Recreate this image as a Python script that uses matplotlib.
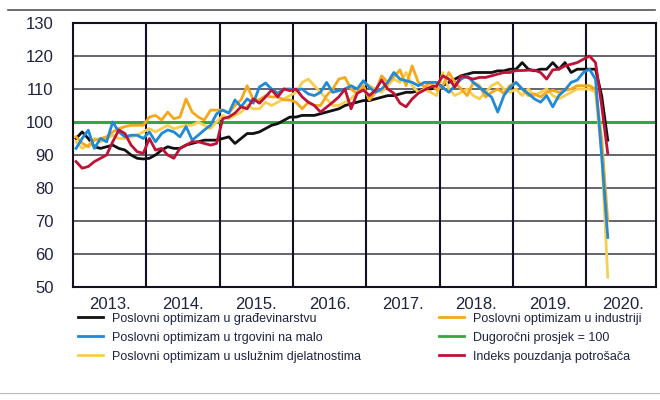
import numpy as np
import matplotlib.pyplot as plt
from matplotlib.lines import Line2D

plt.rcParams['font.family'] = ['Liberation Sans', 'DejaVu Sans']

# monthly data, Jan 2013 - Apr 2020
years = [2013, 2014, 2015, 2016, 2017, 2018, 2019, 2020]
year_labels = ['2013.', '2014.', '2015.', '2016.', '2017.', '2018.', '2019.', '2020.']

gradevinarstvo = [95, 97, 95, 92.5, 92, 92.5, 93, 92, 91.5, 90, 89, 88.8,
                  89, 90, 91.5, 92.5, 92, 92, 93, 93.5, 94, 94.5, 94.5, 94.5,
                  95, 95.5, 93.5, 95, 96.5, 96.5, 97, 98, 99, 99.5, 100.5, 101.5,
                  101.5, 102, 102, 102, 102.5, 103, 103.5, 104, 105, 105.5, 106, 106.5,
                  106.5, 107, 107.5, 108, 108, 108.5, 109, 109, 109.5, 110, 110, 110.5,
                  111, 112, 113, 114, 114.5, 115, 115, 115, 115, 115.5, 115.5, 116,
                  116, 118, 116, 115.5, 116, 116, 118, 116, 118, 115, 116, 116,
                  116, 116, 108, 94.5]

trgovina = [92, 95, 97.5, 92, 95, 94, 100, 97, 95.5, 96, 96, 95,
            97, 94, 96.5, 97.6, 97, 95.5, 98.6, 94.5, 96, 97.6, 99, 102.5,
            103.6, 102.7, 106.7, 104.6, 107, 105.7, 110.6, 111.8, 110, 108.7, 110, 110,
            109.7, 110, 108.5, 108, 109, 112, 109, 109.5, 110, 111, 110, 112.5,
            110.5, 109, 110, 112, 115, 113, 112.5, 112, 111, 112, 112, 112,
            110.5, 109, 111, 113, 114, 112, 110.5, 109, 107.5, 103, 108, 110.5,
            112, 110, 108.6, 107, 106, 108, 104.6, 108, 109.7, 112, 112.7, 115,
            116, 113, 90, 65]

usluge = [94, 92, 93, 95, 94, 95, 96, 95, 95, 95.5, 96, 97,
          98, 97, 98, 99, 98, 98.5, 99, 99, 100, 99, 98, 100,
          102, 101, 102, 103, 105, 104, 104, 106, 105, 106, 107, 108,
          109, 112, 113, 111, 109, 107, 105, 105, 106, 107, 109, 112,
          111, 110, 109, 111, 113, 112, 115, 111, 109, 110, 109, 108,
          115, 110, 108, 109, 110, 108, 107, 109, 111, 112, 110, 109,
          110, 108, 110, 108, 109, 110, 108, 107, 108, 109, 110, 110,
          110, 109, 90, 53]

industrija = [95.5, 93.6, 92.5, 94.5, 95, 95.5, 97, 98, 98.6, 99, 99, 99,
              101.5, 102, 100.6, 103, 101, 101.5, 107, 103, 101.5, 100.6, 103.6, 103.6,
              103.6, 102.7, 105, 106.7, 111, 106.7, 106.7, 108, 107.6, 107.6, 106.7, 106.7,
              106, 104, 106, 105, 105, 108, 110, 113, 113.5, 110, 108.6, 111,
              106.7, 109, 114, 112, 113.7, 115.8, 111, 117, 112, 110.6, 112, 109.7,
              111, 115, 112, 110, 108, 112, 111, 107.6, 109, 110, 108.7, 111,
              112, 110, 108, 108.5, 107.6, 109, 109.6, 109, 109.6, 110, 111, 111,
              111, 110, 95, 70]

potrosaci = [88, 86, 86.5, 88, 89, 90, 94, 97.6, 96.5, 93, 91, 90.5,
             95, 91.5, 92, 90, 89, 92, 93, 94, 94, 93.5, 93, 93.5,
             101, 101.5, 102.7, 104.6, 104, 107, 105.7, 107.6, 109.7, 107.6, 110, 109.5,
             110, 107.6, 106, 105, 103, 104.5, 106, 107.6, 110, 104, 108.7, 109.7,
             108, 109.7, 112.7, 110, 108.7, 105.7, 104.6, 107, 108.7, 109.7, 110.6, 111,
             114, 113, 110.6, 114, 113.5, 113, 113.5, 113.5, 114, 114.5, 115, 115,
             115.6, 115.6, 115.7, 115.7, 115, 113, 115.8, 116, 117, 117.5, 118, 119,
             120, 118, 105, 90.5]

prosjek = 100

x = 2013 + (np.arange(len(gradevinarstvo)) + 0.5) / 12

fig = plt.figure(figsize=(6.6, 4.0), dpi=100)
ax = fig.add_axes([0.1106, 0.2825, 0.8834, 0.66])

# grid
for v in range(60, 130, 10):
    ax.axhline(v, color='#4a4a55', lw=1.2, zorder=1)
for yr in years[1:]:
    ax.axvline(yr, color='#111122', lw=1.5, zorder=1)

ax.axhline(prosjek, color='#3aa345', lw=2.2, zorder=2)

lw = 2.0
ax.plot(x, gradevinarstvo, color='#111111', lw=lw, zorder=3)
ax.plot(x, usluge, color='#f7cf4f', lw=lw, zorder=3)
ax.plot(x, industrija, color='#f5a81c', lw=lw, zorder=3)
ax.plot(x, trgovina, color='#1f8ad8', lw=lw, zorder=4)
ax.plot(x, potrosaci, color='#be1236', lw=lw, zorder=5)

ax.set_ylim(50, 130)
ax.set_xlim(2013, 2020.95)
ax.set_yticks(range(50, 140, 10))
ax.set_xticks(years)
ax.set_xticklabels([])
ax.set_xticks([y + 0.5 for y in years], minor=True)
ax.set_xticklabels(year_labels, minor=True)
ax.tick_params(axis='both', which='both', length=0, labelsize=12, colors='#1d2340')
ax.tick_params(axis='y', pad=14)
ax.tick_params(axis='x', which='minor', pad=7)
for s in ax.spines.values():
    s.set_color('#111122')
    s.set_linewidth(1.5)

# horizontal rules
fig.add_artist(Line2D([0.012, 0.992], [0.975, 0.975], color='#555555', lw=1.2))
fig.add_artist(Line2D([0.0, 1.0], [0.018, 0.018], color='#bbbbbb', lw=0.8))

h1 = [Line2D([], [], color='#111111', lw=2),
      Line2D([], [], color='#1f8ad8', lw=2),
      Line2D([], [], color='#f7cf4f', lw=2)]
l1 = ['Poslovni optimizam u građevinarstvu',
      'Poslovni optimizam u trgovini na malo',
      'Poslovni optimizam u uslužnim djelatnostima']
h2 = [Line2D([], [], color='#f5a81c', lw=2),
      Line2D([], [], color='#3aa345', lw=2),
      Line2D([], [], color='#be1236', lw=2)]
l2 = ['Poslovni optimizam u industriji',
      'Dugoročni prosjek = 100',
      'Indeks pouzdanja potrošača']
kw = dict(frameon=False, fontsize=9, handlelength=2.0, handletextpad=0.7,
          labelspacing=0.55, borderaxespad=0, borderpad=0, labelcolor='#1d2340')
fig.legend(h1, l1, loc='upper left', bbox_to_anchor=(0.118, 0.218), **kw)
fig.legend(h2, l2, loc='upper left', bbox_to_anchor=(0.665, 0.218), **kw)

fig.savefig('out.png', dpi=100)
